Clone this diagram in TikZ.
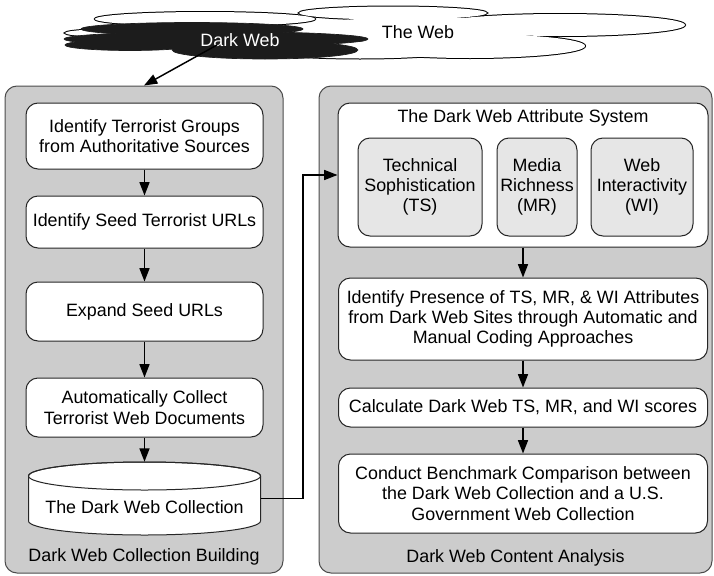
\documentclass[tikz,border=0pt]{standalone}
\usepackage{fontspec}
\setmainfont{Liberation Sans}
\usetikzlibrary{arrows.meta}
\definecolor{panelgray}{HTML}{CCCCCC}
\definecolor{attrgray}{HTML}{E6E6E6}
\definecolor{darkcloud}{HTML}{1C1C1C}
\newlength\pxu
\setlength\pxu{0.75pt}

\begin{document}
\begin{tikzpicture}[x=0.75pt,y=-0.75pt,
  panel/.style={draw=black!70, fill=panelgray, rounded corners=9pt, line width=0.75pt, inner sep=0pt},
  stepbox/.style={draw=black!85, fill=white, rounded corners=9pt, line width=0.75pt,
                  align=center, inner sep=0pt, font=\fontsize{13.4}{15.2}\selectfont},
  attrbox/.style={stepbox, fill=attrgray},
  txt/.style={align=center, inner sep=0pt, font=\fontsize{13.4}{15.2}\selectfont},
  flow/.style={-{Triangle[length=10pt,width=7.5pt]}, line width=1.1pt},
  lobe/.style={draw=black, line width=1.5pt},
  lobefill/.style={fill=white},
  darklobe/.style={fill=darkcloud, draw=darkcloud, line width=0.5pt}
]
\useasboundingbox (0,0) rectangle (714,575);

% ---- the web cloud: outlines first, then white fill over the inner half ----
\foreach \cx/\cy/\rx/\ry in {150/33/85/5, 205/19/110/7, 393/13/94/6.5,
                              560/25/125/11, 470/46/115/12, 360/50/100/8.5}
  \draw[lobe] (\cx,\cy) ellipse [x radius=\rx*0.75pt, y radius=\ry*0.75pt];
\foreach \cx/\cy/\rx/\ry in {150/33/85/5, 205/19/110/7, 393/13/94/6.5,
                              560/25/125/11, 470/46/115/12, 360/50/100/8.5, 420/30/118/13}
  \fill[lobefill] (\cx,\cy) ellipse [x radius=\rx*0.75pt, y radius=\ry*0.75pt];

% ---- the dark web cloud ----
\foreach \cx/\cy/\rx/\ry in {192/29/111/6.5, 216/39/152/7.5, 130/45/65/5.5, 265/50/93/9}
  \filldraw[darklobe] (\cx,\cy) ellipse [x radius=\rx*0.75pt, y radius=\ry*0.75pt];

\node[txt, text=white] (dark) at (240,40) {Dark Web};
\node[txt] (web) at (418,32) {The Web};
\coordinate (dwsrc) at (217,45);

% ---- panels ----
\node[panel, minimum width=278\pxu, minimum height=487\pxu] (lp) at (144,329.5) {};
\node[panel, minimum width=393\pxu, minimum height=487\pxu] (rp) at (515.5,329.5) {};

% ---- collection building ----
\node[stepbox, minimum width=237\pxu, minimum height=66\pxu] (b1) at (144.5,136)
  {Identify Terrorist Groups\\from Authoritative Sources};
\node[stepbox, minimum width=237\pxu, minimum height=52\pxu] (b2) at (144.5,222)
  {Identify Seed Terrorist URLs};
\node[stepbox, minimum width=237\pxu, minimum height=59\pxu] (b3) at (144.5,311.5)
  {Expand Seed URLs};
\node[stepbox, minimum width=237\pxu, minimum height=59\pxu] (b4) at (144.5,407.5)
  {Automatically Collect\\Terrorist Web Documents};

% collection store (cylinder)
\node[minimum width=232\pxu, minimum height=73\pxu, inner sep=0pt] (cyl) at (144.5,498.5) {};
\draw[fill=white, line width=0.75pt, draw=black!85]
  (28.5,476) -- (28.5,521) arc[start angle=180, end angle=360, x radius=87pt, y radius=10.5pt]
  -- (260.5,476) arc[start angle=0, end angle=180, x radius=87pt, y radius=10.5pt] -- cycle;
\draw[line width=0.75pt, draw=black!85] (144.5,476) ellipse [x radius=87pt, y radius=10.5pt];
\node[txt] (cyltext) at (144.5,507) {The Dark Web Collection};

\node[txt] (lpl) at (144,557) {Dark Web Collection Building};

% ---- content analysis ----
\node[stepbox, minimum width=370\pxu, minimum height=144\pxu] (attr) at (523,175) {};
\node[txt] (attrt) at (523,118) {The Dark Web Attribute System};
\node[attrbox, minimum width=124\pxu, minimum height=98\pxu] (ts) at (420,187)
  {Technical\\Sophistication\\(TS)};
\node[attrbox, minimum width=80\pxu, minimum height=98\pxu] (mr) at (537,187)
  {Media\\Richness\\(MR)};
\node[attrbox, minimum width=102\pxu, minimum height=98\pxu] (wi) at (642,187)
  {Web\\Interactivity\\(WI)};

\node[stepbox, minimum width=369\pxu, minimum height=82\pxu] (r1) at (523,319)
  {Identify Presence of TS, MR, \& WI Attributes\\from Dark Web Sites through Automatic and\\Manual Coding Approaches};
\node[stepbox, minimum width=369\pxu, minimum height=39\pxu] (r2) at (523,407.5)
  {Calculate Dark Web TS, MR, and WI scores};
\node[stepbox, minimum width=369\pxu, minimum height=79\pxu] (r3) at (523,493.5)
  {Conduct Benchmark Comparison between\\the Dark Web Collection and a U.S.\\Government Web Collection};

\node[txt] (rpl) at (515.5,558) {Dark Web Content Analysis};

% ---- connectors ----
\draw[flow] (dwsrc) -- (lp.north);
\draw[flow] (b1) -- (b2);
\draw[flow] (b2) -- (b3);
\draw[flow] (b3) -- (b4);
\draw[flow] (b4) -- (cyl.north);
\draw[flow] (attr) -- (r1);
\draw[flow] (r1) -- (r2);
\draw[flow] (r2) -- (r3);
\coordinate (jog) at (303,498.5);
\draw[flow] (cyl.east) -- (jog) |- (attr.west);
\end{tikzpicture}
\end{document}
